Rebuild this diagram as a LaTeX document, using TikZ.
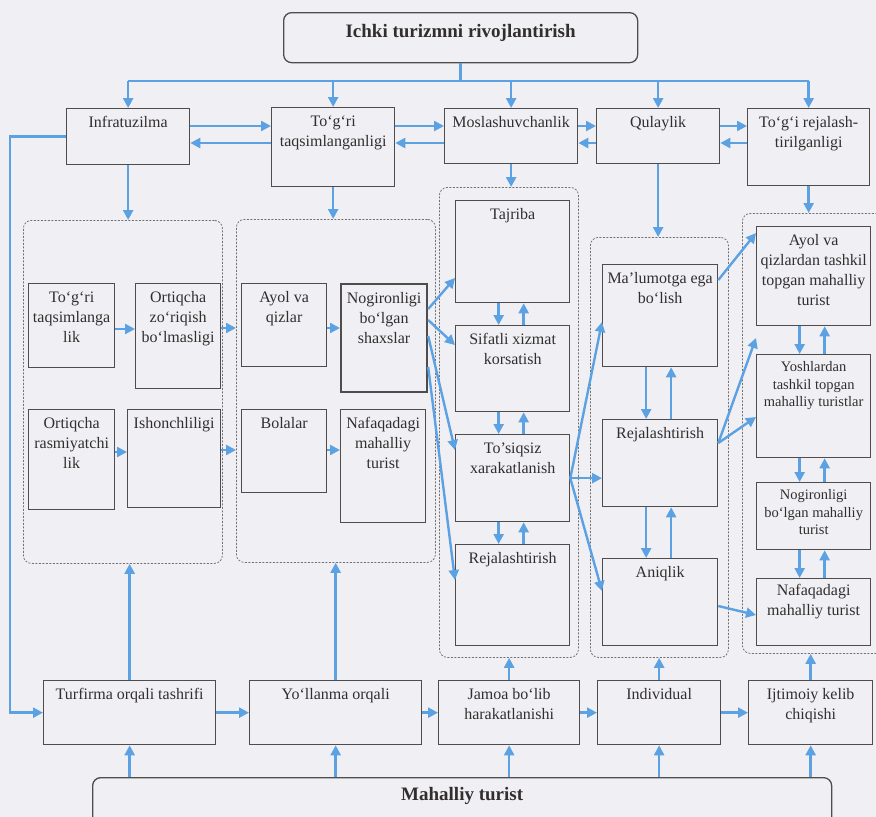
\documentclass[tikz,border=0pt]{standalone}
\usepackage{fontspec}
\setmainfont{Liberation Serif}
\usetikzlibrary{arrows.meta}

\definecolor{pagebg}{RGB}{240,240,244}
\definecolor{boxline}{RGB}{80,76,76}
\definecolor{textcol}{RGB}{50,46,46}
\definecolor{arrowblue}{RGB}{92,162,226}
\definecolor{groupline}{RGB}{115,113,113}

% text block of a box: width, height, top aligned
\newcommand{\boxcell}[4][5]{\parbox[c][#3pt][t]{#2pt}{\centering\vspace*{#1pt}\strut #4}}

\tikzset{
  box/.style={draw=boxline, line width=1.3pt, inner sep=0pt, anchor=north west,
    text=textcol, font=\fontsize{16}{20}\selectfont},
  smallbox/.style={box, font=\fontsize{14.5}{17.5}\selectfont},
  headbox/.style={box, rounded corners=8pt, font=\bfseries\fontsize{19}{22}\selectfont},
  grp/.style={draw=groupline, line width=0.8pt, dash pattern=on 2pt off 1.5pt,
    rounded corners=8pt, inner sep=0pt, anchor=north west},
  link/.style={draw=arrowblue, line width=2.4pt},
  arr/.style={link, -{Triangle[length=10pt,width=10pt]}},
}

\begin{document}
\begin{tikzpicture}[x=1pt,y=-1pt]
                    \path[use as bounding box] (0,0) rectangle (876,817);
                    \clip (0,0) rectangle (876,817);
                    \fill[pagebg] (0,0) rectangle (876,817);%

                    % Heading boxes
                    \node[headbox] (head) at (283,12) {\boxcell[9]{354}{50}{Ichki turizmni rivojlantirish}};%
                    \node[headbox] (mah) at (92,777) {\boxcell[7]{739}{70}{Mahalliy turist}};%

                    % First row
                    \node[box] (infra) at (66,108) {\boxcell{123}{56}{Infratuzilma}};%
                    \node[box] (tor) at (271,107) {\boxcell{123}{79}{To‘g‘ri\\taqsimlanganligi}};%
                    \node[box] (mosl) at (444,108) {\boxcell{133}{55}{Moslashuvchanlik}};%
                    \node[box] (qulay) at (596,108) {\boxcell{123}{55}{Qulaylik}};%
                    \node[box] (rejal) at (747,108) {\boxcell{122}{77}{To‘g‘i rejalash-\\tirilganligi}};%

                    % Dashed groups
                    \node[grp, minimum width=199pt, minimum height=343pt] (g1) at (23,220) {};%
                    \node[grp, minimum width=199pt, minimum height=343pt] (g2) at (236,219) {};%
                    \node[grp, minimum width=139pt, minimum height=470pt] (g3) at (439,187) {};%
                    \node[grp, minimum width=138pt, minimum height=420pt] (g4) at (590,237) {};%
                    \node[grp, minimum width=150pt, minimum height=440pt] (g5) at (742,213) {};%

                    % Group 1
                    \node[box] (tg) at (28,283) {\boxcell{86}{84}{To‘g‘ri\\taqsimlanga\\lik}};%
                    \node[box] (ort) at (135,283) {\boxcell{85}{105}{Ortiqcha\\zo‘riqish\\bo‘lmasligi}};%
                    \node[box] (ortr) at (28,409) {\boxcell{86}{100}{Ortiqcha\\rasmiyatchi\\lik}};%
                    \node[box] (ishon) at (127,409) {\boxcell{93}{98}{Ishonchliligi}};%

                    % Group 2
                    \node[box] (ayol) at (241,283) {\boxcell{85}{83}{Ayol va\\qizlar}};%
                    \node[box, line width=2.2pt] (nogs) at (340,283) {\boxcell{86}{108}{Nogironligi\\bo‘lgan\\shaxslar}};%
                    \node[box] (bol) at (241,409) {\boxcell{85}{83}{Bolalar}};%
                    \node[box] (nafq) at (340,409) {\boxcell{85}{113}{Nafaqadagi\\mahalliy\\turist}};%

                    % Group 3
                    \node[box] (tajr) at (455,200) {\boxcell{114}{102}{Tajriba}};%
                    \node[box] (sifat) at (455,325) {\boxcell{114}{86}{Sifatli xizmat\\korsatish}};%
                    \node[box] (tosiq) at (455,434) {\boxcell{114}{87}{To’siqsiz\\xarakatlanish}};%
                    \node[box] (rejA) at (455,544) {\boxcell{114}{101}{Rejalashtirish}};%

                    % Group 4
                    \node[box] (malum) at (602,264) {\boxcell{115}{102}{Ma’lumotga ega\\bo‘lish}};%
                    \node[box] (rejB) at (602,419) {\boxcell{115}{87}{Rejalashtirish}};%
                    \node[box] (aniq) at (602,558) {\boxcell{115}{87}{Aniqlik}};%

                    % Group 5
                    \node[box] (ayolq) at (756,226) {\boxcell{114}{99}{Ayol va\\qizlardan tashkil\\topgan mahalliy\\turist}};%
                    \node[smallbox] (yosh) at (756,354) {\boxcell{114}{103}{Yoshlardan\\tashkil topgan\\mahalliy turistlar}};%
                    \node[smallbox] (nogm) at (756,482) {\boxcell{114}{67}{Nogironligi\\bo‘lgan mahalliy\\turist}};%
                    \node[box] (nafq2) at (756,578) {\boxcell[3]{114}{67}{Nafaqadagi\\mahalliy turist}};%

                    % Bottom row
                    \node[box] (turf) at (43,680) {\boxcell{172}{64}{Turfirma orqali tashrifi}};%
                    \node[box] (yol) at (249,680) {\boxcell{172}{64}{Yo‘llanma orqali}};%
                    \node[box] (jamoa) at (438,680) {\boxcell{141}{64}{Jamoa bo‘lib\\harakatlanishi}};%
                    \node[box] (indiv) at (597,680) {\boxcell{123}{64}{Individual}};%
                    \node[box] (ijt) at (748,680) {\boxcell{124}{64}{Ijtimoiy kelib\\chiqishi}};%

                    % Heading to first row
                    \coordinate (hub) at (460,81);
                    \draw[link] (head.south) -- (head.south |- hub);%
                    \draw[link] (infra.north |- hub) -- (rejal.north |- hub);%
                    \foreach \n in {infra, tor, mosl, qulay, rejal}
                      \draw[arr] (\n.north |- hub) -- (\n.north);%

                    % First row, both ways
                    \foreach \a/\b in {infra/tor, tor/mosl, mosl/qulay, qulay/rejal} {
                      \draw[arr] (\a.east |- 0,126) -- (\b.west |- 0,126);%
                      \draw[arr] (\b.west |- 0,143) -- (\a.east |- 0,143);%
                    }

                    % First row down to the groups
                    \foreach \n/\g in {infra/g1, tor/g2, mosl/g3, qulay/g4, rejal/g5}
                      \draw[arr] (\n.south) -- (\n.south |- \g.north);%

                    % Infratuzilma round to Turfirma
                    \draw[arr] (infra.west) -- ++(-56,0) |- (turf.west);%

                    % Inside groups 1 and 2
                    \draw[arr] (tg.east |- 0,329) -- (ort.west |- 0,329);%
                    \draw[arr] (ortr.east |- 0,452) -- (ishon.west |- 0,452);%
                    \draw[arr] (ort.east |- 0,328) -- (g2.west |- 0,328);%
                    \draw[arr] (ishon.east |- 0,450) -- (g2.west |- 0,450);%
                    \draw[arr] (ayol.east |- 0,328) -- (nogs.west |- 0,328);%
                    \draw[arr] (bol.east |- 0,450) -- (nafq.west |- 0,450);%

                    % Columns, both ways
                    \foreach \a/\b in {tajr/sifat, sifat/tosiq, tosiq/rejA, malum/rejB, rejB/aniq, ayolq/yosh, yosh/nogm, nogm/nafq2} {
                      \draw[arr] ([xshift=-14pt]\a.south) -- ([xshift=-14pt]\b.north);%
                      \draw[arr] ([xshift=11pt]\b.north) -- ([xshift=11pt]\a.south);%
                    }

                    % Diagonals
                    \draw[arr] (nogs.east |- 0,309) -- (tajr.west |- 0,278);%
                    \draw[arr] (nogs.east |- 0,320) -- (sifat.west |- 0,345);%
                    \draw[arr] (nogs.east |- 0,336) -- (tosiq.west |- 0,450);%
                    \draw[arr] (nogs.east |- 0,367) -- (rejA.west |- 0,580);%
                    \draw[arr] (tosiq.east) -- (malum.west |- 0,322);%
                    \draw[arr] (tosiq.east) -- (tosiq.east -| rejB.west);%
                    \draw[arr] (tosiq.east) -- (aniq.west |- 0,591);%
                    \draw[arr] (malum.east |- 0,280) -- (ayolq.west |- 0,233);%
                    \draw[arr] (rejB.east |- 0,443) -- (ayolq.west |- 0,338);%
                    \draw[arr] (rejB.east |- 0,443) -- (yosh.west |- 0,417);%
                    \draw[arr] (aniq.east |- 0,606) -- (nafq2.west |- 0,615);%

                    % Bottom row
                    \foreach \a/\b in {turf/yol, yol/jamoa, jamoa/indiv, indiv/ijt}
                      \draw[arr] (\a.east) -- (\b.west);%
                    \foreach \n/\g in {turf/g1, yol/g2, jamoa/g3, indiv/g4, ijt/g5}
                      \draw[arr] (\n.north) -- (\n.north |- \g.south);%
                    \foreach \n in {turf, yol, jamoa, indiv, ijt}
                      \draw[arr] (\n.south |- mah.north) -- (\n.south);%
\end{tikzpicture}
\end{document}
